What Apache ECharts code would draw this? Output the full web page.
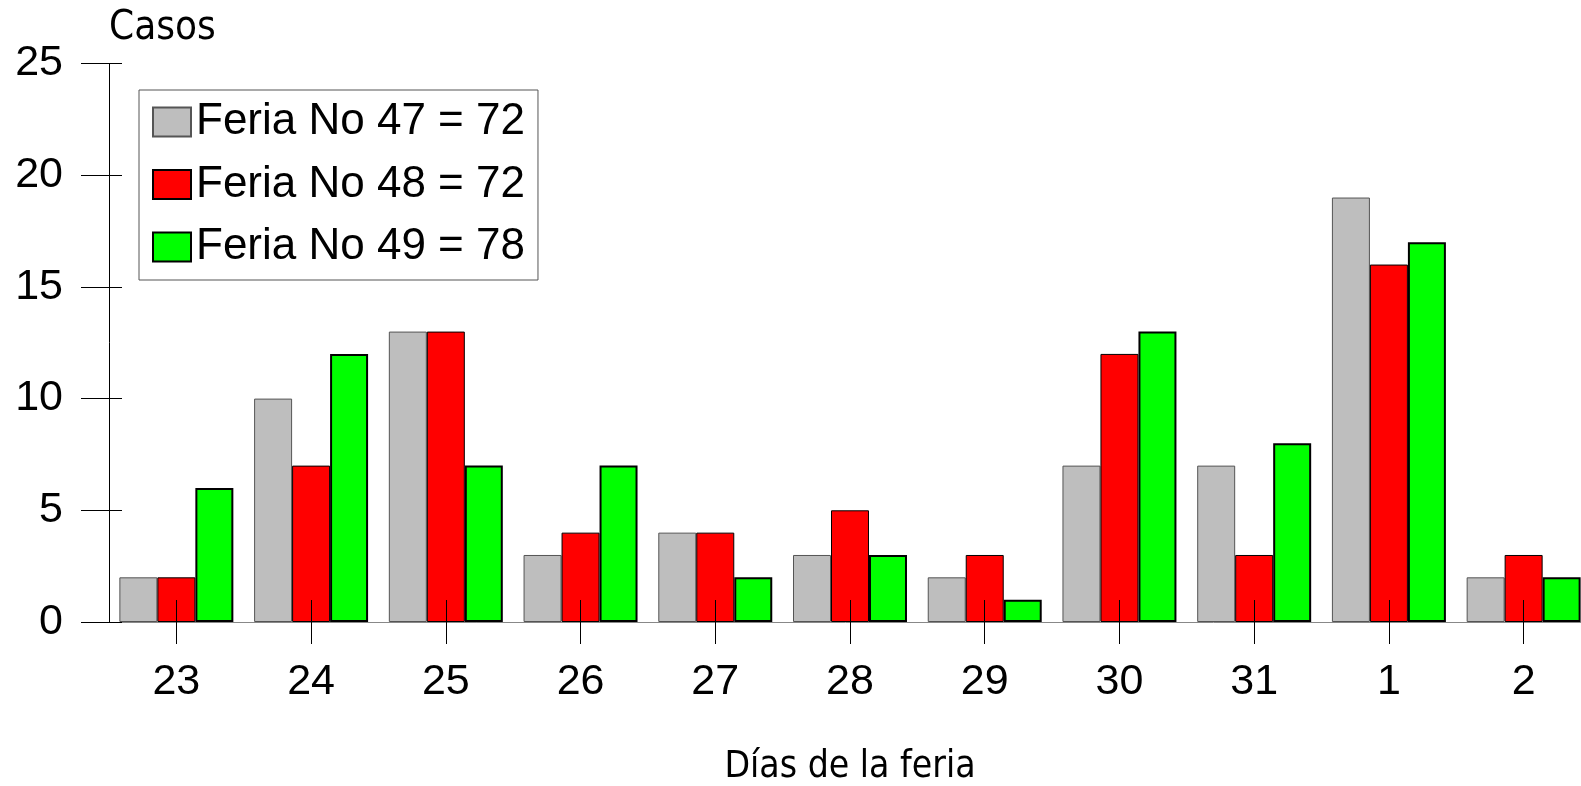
<!DOCTYPE html>
<html>
<head>
<meta charset="utf-8">
<title>Casos por día de la feria</title>
<script src="https://cdn.jsdelivr.net/npm/echarts@6/dist/echarts.min.js"></script>
<style>
    html, body { margin: 0; padding: 0; background: #fff; }
    #chart { width: 1581px; height: 786px; }
</style>
</head>
<body>
<div id="chart"></div>
<script>
// días de la feria (eje x)
const dias = ['23', '24', '25', '26', '27', '28', '29', '30', '31', '1', '2'];
// casos por feria
const feria47 = [2, 10, 13, 3, 4, 3, 2, 7, 7, 19, 2];
const feria48 = [2, 7, 13, 4, 4, 5, 3, 12, 3, 16, 3];
const feria49 = [6, 12, 7, 7, 2, 3, 1, 13, 8, 17, 2];
const nombres = ['Feria No 47 = 72', 'Feria No 48 = 72', 'Feria No 49 = 78'];

const fuente = '"Liberation Sans", Arial, sans-serif';
const fuenteNarrow = '"Liberation Sans Narrow", "Arial Narrow", "DejaVu Sans Condensed", sans-serif';

const myChart = echarts.init(document.getElementById('chart'));

let option = {
    animation: false,
    backgroundColor: '#fff',
    grid: {
        left: 109,
        right: -10,
        top: 63.5,
        bottom: 164,
        containLabel: false,
        outerBoundsMode: 'none'
    },
    legend: {
        orient: 'vertical',
        left: 139,
        top: 90,
        padding: [10, 13, 11, 13],
        itemGap: 18.5,
        itemWidth: 38,
        itemHeight: 29,
        borderColor: '#555',
        borderWidth: 1,
        backgroundColor: '#fff',
        icon: 'rect',
        textStyle: {
            fontFamily: fuente,
            fontSize: 44,
            lineHeight: 44,
            color: '#000'
        },
        data: nombres
    },
    xAxis: [{
        type: 'category',
        position: 'bottom',
        data: dias,
        name: 'Días de la feria',
        nameLocation: 'middle',
        nameGap: 127,
        nameTextStyle: {
            fontFamily: fuenteNarrow,
            fontSize: 37,
            color: '#000'
        },
        axisLine: { show: true, lineStyle: { color: '#888', width: 1 } },
        axisTick: {
            show: true,
            alignWithLabel: true,
            length: 22,
            lineStyle: { color: '#000', width: 1 }
        },
        axisLabel: {
            margin: 39,
            fontFamily: fuente,
            fontSize: 43,
            color: '#000'
        },
        splitLine: { show: false }
    }, {
        // marcas hacia adentro (cruzan la línea base)
        type: 'category',
        position: 'bottom',
        data: dias,
        z: 10,
        axisLine: { show: false },
        axisTick: {
            show: true,
            inside: true,
            alignWithLabel: true,
            length: 22,
            lineStyle: { color: '#000', width: 1 }
        },
        axisLabel: { show: false },
        splitLine: { show: false }
    }],
    yAxis: [{
        type: 'value',
        position: 'left',
        min: 0,
        max: 25,
        interval: 5,
        name: 'Casos',
        nameLocation: 'end',
        nameGap: 15,
        nameTextStyle: {
            fontFamily: fuenteNarrow,
            fontSize: 40,
            color: '#000',
            align: 'left'
        },
        axisLine: { show: true, lineStyle: { color: '#000', width: 1 } },
        axisTick: {
            show: true,
            length: 28,
            lineStyle: { color: '#000', width: 1 }
        },
        axisLabel: {
            margin: 46,
            fontFamily: fuente,
            fontSize: 43,
            color: '#000'
        },
        splitLine: { show: false }
    }, {
        type: 'value',
        position: 'left',
        min: 0,
        max: 25,
        interval: 5,
        axisLine: { show: false },
        axisTick: {
            show: true,
            inside: true,
            length: 13,
            lineStyle: { color: '#000', width: 1 }
        },
        axisLabel: { show: false },
        splitLine: { show: false }
    }],
    series: [{
        name: nombres[0],
        type: 'bar',
        barGap: 0,
        barCategoryGap: '15.4%',
        itemStyle: { color: '#bebebe', borderColor: '#555', borderWidth: 1 },
        data: feria47
    }, {
        name: nombres[1],
        type: 'bar',
        barGap: 0,
        barCategoryGap: '15.4%',
        itemStyle: { color: '#ff0000', borderColor: '#000', borderWidth: 1 },
        data: feria48
    }, {
        name: nombres[2],
        type: 'bar',
        barGap: 0,
        barCategoryGap: '15.4%',
        itemStyle: { color: '#00ff00', borderColor: '#000', borderWidth: 2 },
        data: feria49
    }]
};

myChart.setOption(option);
window.addEventListener('resize', function () {
    myChart.resize();
});
</script>
</body>
</html>
